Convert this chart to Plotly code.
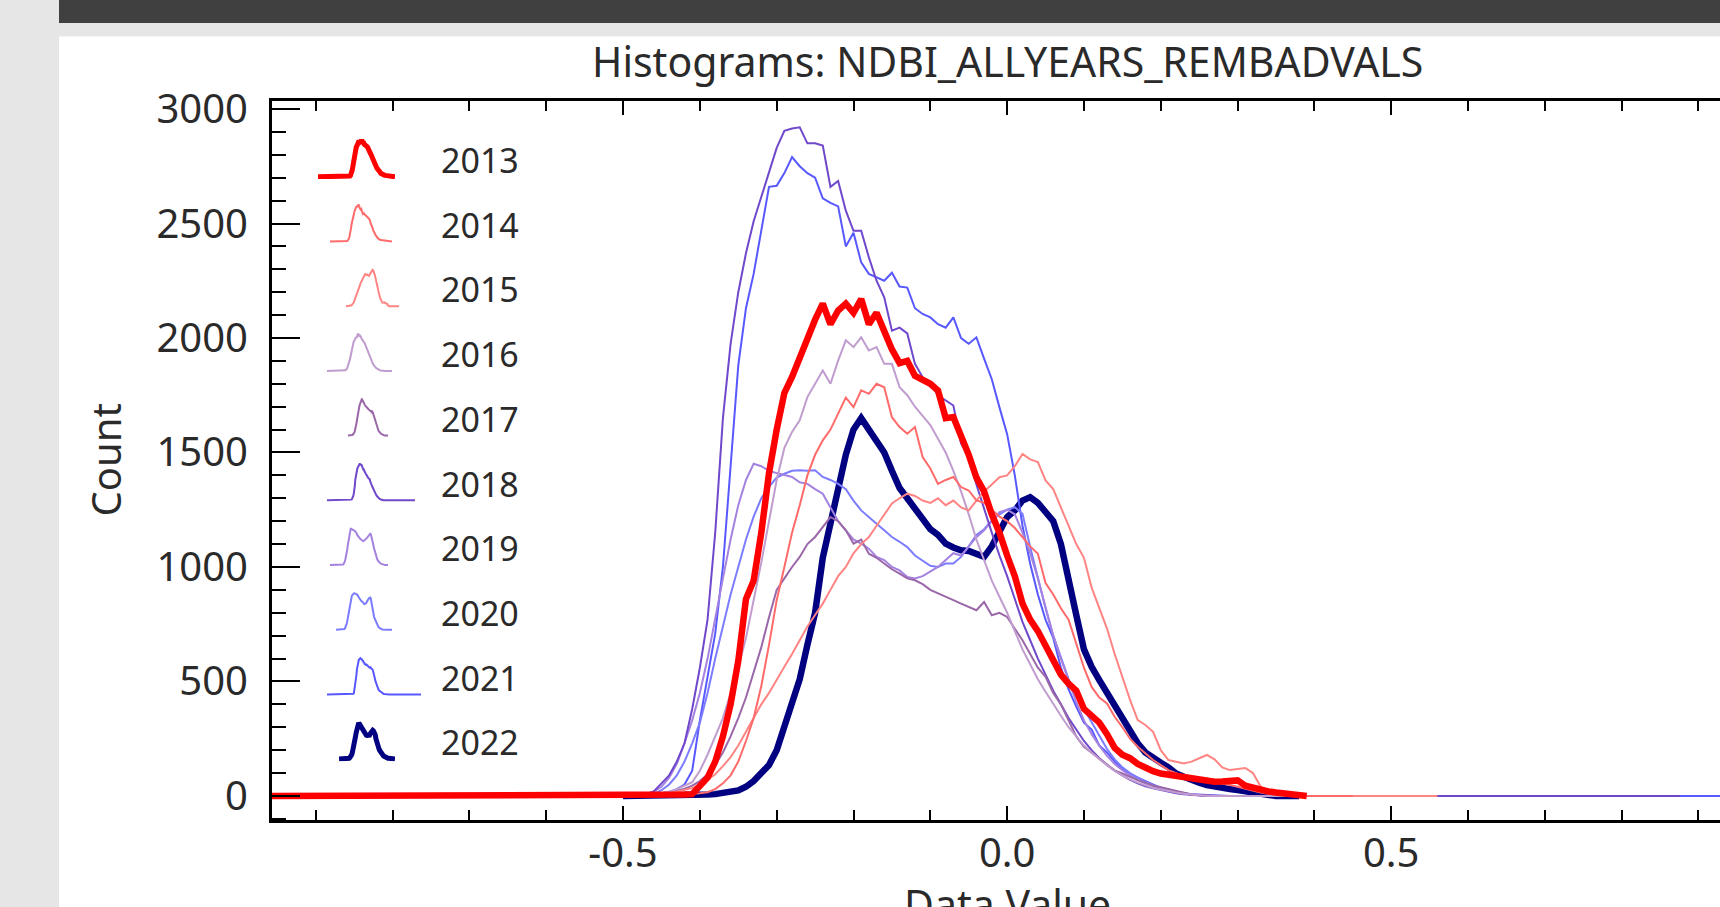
import plotly.graph_objects as go

# ---------------- data ----------------
years = ["2013", "2014", "2015", "2016", "2017", "2018", "2019", "2020", "2021", "2022"]

x_grid = [-0.50, -0.49, -0.48, -0.47, -0.46, -0.45, -0.44, -0.43, -0.42, -0.41,
          -0.40, -0.39, -0.38, -0.37, -0.36, -0.35, -0.34, -0.33, -0.32, -0.31,
          -0.30, -0.29, -0.28, -0.27, -0.26, -0.25, -0.24, -0.23, -0.22, -0.21,
          -0.20, -0.19, -0.18, -0.17, -0.16, -0.15, -0.14, -0.13, -0.12, -0.11,
          -0.10, -0.09, -0.08, -0.07, -0.06, -0.05, -0.04, -0.03, -0.02, -0.01,
          0.00, 0.01, 0.02, 0.03, 0.04, 0.05, 0.06, 0.07, 0.08, 0.09,
          0.10, 0.11, 0.12, 0.13, 0.14, 0.15, 0.16, 0.17, 0.18, 0.19,
          0.20, 0.21, 0.22, 0.23, 0.24, 0.25, 0.26, 0.27, 0.28, 0.29,
          0.30, 0.31, 0.32, 0.33, 0.34, 0.35, 0.36, 0.37, 0.38, 0.39,
          0.40]

counts_2013 = [0, 0, 0, 0, 0, 0, 2, 4, 6, 8,
               45, 80, 150, 260, 400, 590, 860, 940, 1150, 1410,
               1600, 1760, 1830, 1920, 2010, 2080, 2150, 2060, 2120, 2150,
               2110, 2170, 2060, 2110, 2030, 1950, 1890, 1900, 1835, 1815,
               1800, 1770, 1650, 1655, 1580, 1490, 1390, 1330, 1230, 1150,
               1050, 960, 840, 770, 720, 660, 600, 530, 490, 460,
               380, 345, 320, 270, 210, 180, 165, 140, 120, 108,
               98, 92, 85, 80, 74, 70, 66, 62, 63, 66,
               68, 45, 35, 26, 20, 15, 11, 8, 5, 0,
               0]
counts_2014 = [0, 0, 0, 0, 0, 0, 2, 4, 6, 10,
               12, 16, 30, 55, 90, 150, 240, 340, 480, 660,
               855, 1000, 1150, 1270, 1400, 1490, 1553, 1600, 1669, 1740,
               1698, 1771, 1756, 1800, 1785, 1654, 1611, 1582, 1611, 1480,
               1430, 1363, 1380, 1393, 1349, 1334, 1291, 1280, 1250, 1220,
               1200, 1170, 1130, 1090, 1058, 930, 880, 820, 770, 660,
               560, 476, 430, 404, 346, 300, 250, 215, 185, 157,
               135, 113, 100, 84, 78, 72, 68, 62, 55, 48,
               40, 32, 22, 15, 10, 6, 3, 0, 0, 0,
               0]
counts_2015 = [0, 0, 0, 2, 5, 8, 12, 18, 25, 35,
               50, 70, 95, 130, 170, 220, 280, 340, 400, 450,
               510, 564, 620, 680, 740, 790, 840, 900, 960, 1000,
               1060, 1100, 1131, 1180, 1230, 1277, 1300, 1320, 1310, 1290,
               1280, 1300, 1270, 1290, 1260, 1247, 1290, 1330, 1360, 1392,
               1400, 1440, 1494, 1470, 1458, 1378, 1340, 1260, 1174, 1100,
               1040, 910, 820, 731, 620, 520, 420, 331, 310, 280,
               200, 157, 150, 142, 150, 165, 179, 160, 125, 113,
               118, 122, 100, 41, 20, 10, 5, 2, 0, 0,
               0]
counts_2016 = [0, 0, 0, 2, 5, 10, 18, 30, 45, 60,
               110, 180, 260, 340, 450, 560, 690, 850, 1020, 1200,
               1380, 1520, 1590, 1640, 1742, 1800, 1858, 1800, 1901, 1990,
               1960, 2003, 1945, 1960, 1887, 1887, 1785, 1750, 1700, 1660,
               1620, 1560, 1500, 1420, 1330, 1230, 1120, 1030, 940, 870,
               800, 720, 640, 575, 510, 455, 400, 350, 300, 260,
               220, 190, 160, 135, 110, 90, 72, 58, 45, 35,
               28, 20, 15, 10, 6, 3, 0, 0, 0, 0,
               0, 0, 0, 0, 0, 0, 0, 0, 0, 0,
               0]
counts_2017 = [0, 0, 0, 2, 5, 10, 15, 22, 32, 45,
               65, 95, 135, 190, 260, 340, 430, 540, 650, 780,
               900, 950, 1000, 1044, 1100, 1131, 1175, 1218, 1200, 1160,
               1102, 1120, 1058, 1040, 1015, 990, 971, 950, 942, 925,
               900, 884, 870, 855, 840, 826, 811, 847, 789, 800,
               782, 730, 680, 620, 560, 520, 450, 400, 330, 260,
               215, 190, 165, 140, 112, 98, 82, 69, 58, 46,
               38, 30, 20, 11, 6, 3, 0, 0, 0, 0,
               0, 0, 0, 0, 0, 0, 0, 0, 0, 0,
               0]
counts_2018 = [0, 0, 3, 8, 20, 55, 90, 150, 230, 380,
               560, 770, 1150, 1650, 1974, 2200, 2370, 2510, 2620, 2730,
               2830, 2905, 2915, 2920, 2850, 2850, 2840, 2660, 2686, 2556,
               2468, 2468, 2352, 2250, 2178, 2032, 2045, 2020, 1887, 1829,
               1800, 1750, 1727, 1705, 1540, 1480, 1360, 1250, 1150, 1050,
               960, 860, 760, 680, 600, 530, 460, 400, 340, 290,
               240, 200, 165, 135, 110, 90, 70, 55, 42, 33,
               25, 18, 12, 8, 5, 3, 0, 0, 0, 0,
               0, 0, 0, 0, 0, 0, 0, 0, 0, 0,
               0]
counts_2019 = [0, 0, 3, 8, 20, 40, 80, 140, 230, 330,
               450, 600, 780, 950, 1120, 1270, 1380, 1451, 1440, 1420,
               1410, 1400, 1393, 1370, 1363, 1340, 1320, 1260, 1200, 1160,
               1120, 1102, 1080, 1044, 1030, 1000, 985, 956, 950, 960,
               980, 1000, 1030, 1060, 1050, 1090, 1130, 1160, 1200, 1240,
               1250, 1230, 1150, 1060, 950, 830, 700, 600, 500, 410,
               330, 270, 220, 175, 140, 112, 90, 70, 55, 42,
               30, 22, 15, 10, 6, 3, 0, 0, 0, 0,
               0, 0, 0, 0, 0, 0, 0, 0, 0, 0,
               0]
counts_2020 = [0, 0, 0, 3, 10, 25, 50, 90, 150, 230,
               320, 450, 600, 740, 880, 1000, 1120, 1220, 1300, 1350,
               1390, 1407, 1420, 1422, 1420, 1422, 1393, 1380, 1363, 1340,
               1290, 1247, 1220, 1189, 1160, 1131, 1110, 1087, 1050, 1029,
               1005, 1000, 1015, 1015, 1044, 1090, 1140, 1165, 1203, 1230,
               1250, 1261, 1232, 1087, 950, 820, 700, 600, 510, 440,
               380, 320, 260, 205, 160, 125, 100, 80, 62, 48,
               35, 25, 18, 12, 8, 4, 0, 0, 0, 0,
               0, 0, 0, 0, 0, 0, 0, 0, 0, 0,
               0]
counts_2021 = [0, 0, 0, 2, 5, 10, 18, 30, 50, 110,
               330, 520, 710, 1000, 1460, 1880, 2130, 2280, 2470, 2660,
               2665, 2720, 2790, 2750, 2720, 2700, 2610, 2590, 2575, 2400,
               2460, 2330, 2280, 2265, 2250, 2285, 2225, 2220, 2130, 2105,
               2090, 2060, 2045, 2090, 2000, 1975, 2003, 1910, 1820, 1697,
               1580, 1400, 1180, 1014, 880, 770, 690, 560, 465, 390,
               320, 290, 220, 190, 150, 120, 95, 80, 65, 50,
               35, 28, 20, 11, 8, 6, 4, 2, 0, 0,
               0, 0, 0, 0, 0, 0, 0, 0, 0, 0,
               0]
counts_2022 = [0, 0, 0, 0, 0, 0, 0, 0, 0, 0,
               4, 6, 8, 11, 15, 24, 40, 65, 100, 135,
               200, 300, 410, 510, 660, 800, 1040, 1200, 1350, 1490,
               1600, 1650, 1600, 1550, 1500, 1420, 1345, 1300, 1255, 1200,
               1165, 1140, 1102, 1085, 1073, 1070, 1060, 1044, 1090, 1150,
               1218, 1247, 1290, 1305, 1280, 1240, 1200, 1100, 930, 790,
               640, 564, 506, 450, 390, 330, 280, 230, 190, 165,
               145, 125, 98, 84, 69, 58, 48, 40, 35, 30,
               26, 20, 14, 5, 0, 0, 0, 0, 0, 0,
               0]

all_counts = [counts_2013, counts_2014, counts_2015, counts_2016, counts_2017,
              counts_2018, counts_2019, counts_2020, counts_2021, counts_2022]

# histogram data range (first / last bin) of every year
x_first = [-0.96, -0.70, -0.52, -0.75, -0.52, -0.96, -0.68, -0.60, -0.96, -0.50]
x_last = [0.39, 0.45, 0.56, 0.40, 0.32, 0.876, 0.30, 0.40, 0.96, 0.38]

# ---------------- style ----------------
line_colors = ["#ff0000", "#ff6a6a", "#ff8484", "#c09ccf", "#9a68a8",
               "#7048cc", "#a482e0", "#7c7cff", "#5858ff", "#000080"]
line_widths = [6.5, 2, 2, 2, 2, 2, 2, 2, 2, 6.5]

FONT = "Noto Sans"
TXT = "#2a2a2a"
W, H = 1720, 907
PL, PR, PT, PB = 272, 1720, 101, 820   # plot area in pixels
X_RANGE = [-0.957, 0.928]
Y_RANGE = [-105, 3035]


def px_x(px):
    return (px - PL) / (PR - PL)


def px_y(py):
    return (PB - py) / (PB - PT)


def series(i):
    xs = [x_first[i]]
    ys = [0]
    for g, c in zip(x_grid, all_counts[i]):
        if x_first[i] < g < x_last[i]:
            xs.append(g)
            ys.append(c)
    xs.append(x_last[i])
    ys.append(0)
    return xs, ys


fig = go.Figure()

# main curves (2013 drawn last -> on top)
for i in reversed(range(len(years))):
    xs, ys = series(i)
    fig.add_trace(go.Scatter(x=xs, y=ys, mode="lines", name=years[i],
                             line=dict(color=line_colors[i], width=line_widths[i]),
                             showlegend=False, hoverinfo="skip"))

# ---------------- legend (thumbnail glyphs + labels) ----------------
glyph_left = [318, 330, 346, 327, 348, 327, 330, 336, 327, 339]
glyph_right = [395, 392, 399, 392, 388, 415, 388, 392, 421, 395]
entry_y0, entry_dy = 160, 64.7
annotations = []
layout_axes = {}
for i, yr in enumerate(years):
    yc = entry_y0 + entry_dy * i
    n = i + 3
    xs, ys = series(i)
    fig.add_trace(go.Scatter(x=xs, y=ys, mode="lines", xaxis=f"x{n}", yaxis=f"y{n}",
                             line=dict(color=line_colors[i],
                                       width=min(line_widths[i], 5)),
                             showlegend=False, hoverinfo="skip"))
    m = max(all_counts[i])
    layout_axes[f"xaxis{n}"] = dict(domain=[px_x(glyph_left[i]), px_x(glyph_right[i])],
                                    anchor=f"y{n}", visible=False,
                                    range=[x_first[i], x_last[i]], fixedrange=True)
    layout_axes[f"yaxis{n}"] = dict(domain=[px_y(yc + 19), px_y(yc - 21)],
                                    anchor=f"x{n}", visible=False,
                                    range=[-0.06 * m, 1.04 * m], fixedrange=True)
    annotations.append(dict(text=yr, x=px_x(439), y=px_y(yc), xref="paper", yref="paper",
                            xanchor="left", yanchor="middle", showarrow=False,
                            font=dict(family=FONT, size=34, color=TXT)))

# titles
annotations.append(dict(text="Histograms: NDBI_ALLYEARS_REMBADVALS", x=0, xref="x",
                        y=px_y(61), yref="paper", xanchor="center", yanchor="middle",
                        showarrow=False, font=dict(family=FONT, size=41, color=TXT)))
annotations.append(dict(text="Count", x=px_x(105), xref="paper", y=0.5, yref="paper",
                        textangle=-90, xanchor="center", yanchor="middle",
                        showarrow=False, font=dict(family=FONT, size=40, color=TXT)))
annotations.append(dict(text="Data Value", x=0, xref="x", y=px_y(874), yref="paper",
                        xanchor="center", yanchor="top",
                        showarrow=False, font=dict(family=FONT, size=41, color=TXT)))

# window chrome: white panel + dark title bar on grey background
shapes = [
    dict(type="rect", xref="paper", yref="paper", layer="below",
         x0=px_x(59), x1=1.02, y0=px_y(H + 5), y1=px_y(36.5),
         fillcolor="white", line=dict(width=0)),
    dict(type="rect", xref="paper", yref="paper", layer="below",
         x0=px_x(59), x1=1.02, y0=px_y(23), y1=px_y(-5),
         fillcolor="#404040", line=dict(width=0)),
]

fig.update_layout(
    width=W, height=H, autosize=False,
    margin=dict(l=PL, r=W - PR, t=PT, b=H - PB, pad=0),
    paper_bgcolor="#e6e6e6", plot_bgcolor="white",
    showlegend=False,
    font=dict(family=FONT, color=TXT),
    annotations=annotations, shapes=shapes,
    xaxis=dict(range=X_RANGE, showgrid=False, zeroline=False,
               showline=True, linecolor="black", linewidth=3, mirror="ticks",
               ticks="inside", ticklen=14, tickwidth=2, tickcolor="black",
               tickvals=[-0.5, 0.0, 0.5], ticktext=["-0.5", "0.0", "0.5"],
               minor=dict(ticks="inside", ticklen=10, tickwidth=2, tickcolor="black",
                          tickmode="linear", tick0=0, dtick=0.1),
               tickfont=dict(family=FONT, size=40, color=TXT), ticklabelstandoff=-4),
    yaxis=dict(range=Y_RANGE, showgrid=False, zeroline=False,
               showline=True, linecolor="black", linewidth=3,
               ticks="inside", ticklen=28, tickwidth=2, tickcolor="black",
               tickmode="linear", tick0=0, dtick=500,
               minor=dict(ticks="inside", ticklen=14, tickwidth=2, tickcolor="black",
                          tickmode="linear", tick0=0, dtick=100),
               tickfont=dict(family=FONT, size=40, color=TXT), ticklabelstandoff=13),
    yaxis2=dict(range=Y_RANGE, overlaying="y", side="right", anchor="x",
                showgrid=False, zeroline=False, showline=False, showticklabels=False,
                ticks="inside", ticklen=3, tickwidth=2, tickcolor="black",
                tickmode="linear", tick0=0, dtick=500),
    **layout_axes,
)

fig.write_html("out.html")
